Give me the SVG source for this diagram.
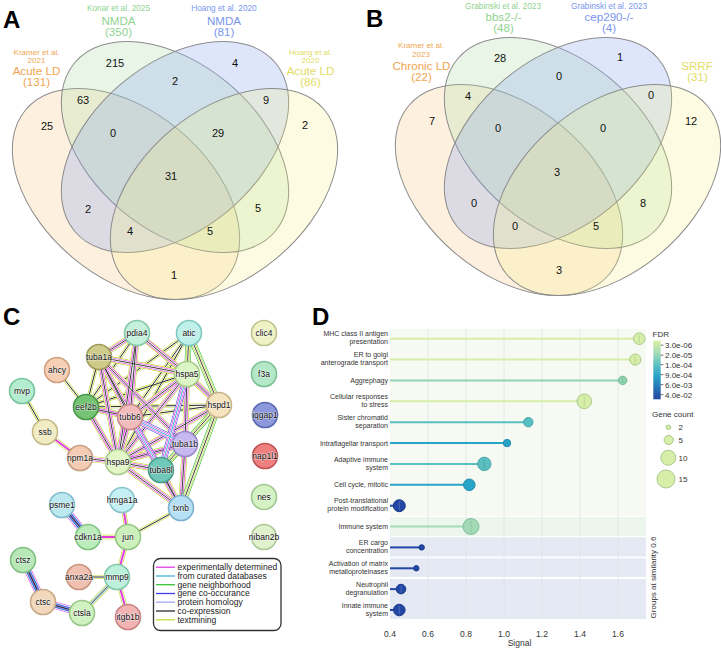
<svg xmlns="http://www.w3.org/2000/svg" width="721" height="650" viewBox="0 0 721 650">
<style>
text{font-family:"Liberation Sans",Arial,sans-serif}
.pl{font-weight:bold;font-size:24px;fill:#000}
.vn{font-size:11px;fill:#111;text-anchor:middle}
.vs{font-size:8.3px;text-anchor:middle}
.vt{font-size:8px;text-anchor:middle}
.vb{font-size:11.6px;text-anchor:middle}
.ell{stroke:#8c8c8c;stroke-width:1}
.or{fill:#f8c27f;fill-opacity:.25}.gr{fill:#a8dca0;fill-opacity:.25}.bl{fill:#8aa6f0;fill-opacity:.28}.ye{fill:#f4f07a;fill-opacity:.22}
.tor{fill:#f0a550}.tgr{fill:#8fd38f}.tbl{fill:#7a96ee}.tye{fill:#e2dc66}
.nd circle{stroke-width:1.6}
.nd text{font-size:8.5px;text-anchor:middle;fill:#111;stroke:#fff;stroke-width:1.2;stroke-opacity:.6;paint-order:stroke}
.lg{font-size:8.5px;fill:#222}
.rl{font-size:7px;fill:#333;text-anchor:end}
.tk{font-size:8.5px;fill:#333;text-anchor:middle}
.lgd{font-size:8px;fill:#333}
.e{fill:none;stroke-linecap:butt}
.grid{stroke:#dfe5e5;stroke-width:.8}
</style>
<defs>
<linearGradient id="fdr" x1="0" y1="0" x2="0" y2="1">
<stop offset="0" stop-color="#d9f0a3"/><stop offset=".2" stop-color="#a9ddb7"/><stop offset=".4" stop-color="#5fc3c1"/><stop offset=".6" stop-color="#2aa3c9"/><stop offset=".8" stop-color="#2474b6"/><stop offset="1" stop-color="#2448a0"/>
</linearGradient>
<path id="eFull" d="M137,333L187,374 M137,333L130,417 M137,333L118,462 M137,333L99,357 M99,357L187,374 M99,357L118,462 M99,357L185,444 M99,357L161,470 M187,374L219,405 M187,374L130,417 M187,374L118,462 M187,374L185,444 M130,417L118,462 M130,417L181,508 M118,462L161,470 M118,462L185,444 M118,462L181,508 M118,462L219,405 M185,444L161,470 M185,444L181,508 M161,470L181,508 M86,407L118,462 M80,458L118,462 M86,407L130,417 M99,357L130,417"/>
<path id="eBlue" d="M130,417L161,470 M187,374L161,470 M130,417L185,444"/>
<path id="eCt" d="M137,333L86,407 M189,333L86,407 M189,333L130,417 M189,333L118,462 M86,407L219,405 M86,407L187,374 M99,357L86,407 M130,417L219,405 M137,333L219,405 M57,370L86,407 M22,391L45,432 M181,508L128,537 M79,577L117,577"/>
<path id="eGreen" d="M189,333L187,374 M189,333L219,405 M219,405L181,508 M219,405L161,470"/>
<path id="eMt" d="M45,432L80,458 M122,500L128,537 M88,537L128,537 M128,537L117,577 M117,577L128,617"/>
<path id="eDb" d="M62,505L88,537 M23,560L43,602 M43,602L82,613"/>
<path id="eMct" d="M117,577L82,613"/>
</defs>
<rect width="721" height="650" fill="#fff"/>

<!-- Panel A -->
<text class="pl" x="3" y="27.5">A</text>
<g id="vennA">
<g id="A-kramer"><ellipse class="ell or" cx="0" cy="0" rx="131" ry="83" transform="translate(126,194) rotate(40)"/></g>
<g id="A-konar"><ellipse class="ell gr" cx="0" cy="0" rx="131" ry="83" transform="translate(175,147) rotate(40)"/></g>
<g id="A-hoangN"><ellipse class="ell bl" cx="0" cy="0" rx="131" ry="83" transform="translate(175,147) rotate(-40)"/></g>
<g id="A-hoangA"><ellipse class="ell ye" cx="0" cy="0" rx="131" ry="83" transform="translate(224,194) rotate(-40)"/></g>
</g>
<g id="A-labels">
<text class="vt tor" x="36.5" y="54.5">Kramer et al.</text>
<text class="vt tor" x="36.5" y="63">2021</text>
<text class="vb tor" x="36.5" y="74.6">Acute LD</text>
<text class="vb tor" x="36.5" y="86.2">(131)</text>
<text class="vs tgr" x="118.5" y="11">Konar et al. 2025</text>
<text class="vb tgr" x="118.5" y="24.5">NMDA</text>
<text class="vb tgr" x="118.5" y="36.3">(350)</text>
<text class="vs tbl" x="224" y="11">Hoang et al. 2020</text>
<text class="vb tbl" x="224" y="24.5">NMDA</text>
<text class="vb tbl" x="224" y="36.3">(81)</text>
<text class="vt tye" x="310.5" y="54.5">Hoang et al.</text>
<text class="vt tye" x="310.5" y="63">2020</text>
<text class="vb tye" x="310.5" y="74.6">Acute LD</text>
<text class="vb tye" x="310.5" y="86.2">(86)</text>
</g>
<g id="A-counts">
<text class="vn" x="115" y="67">215</text>
<text class="vn" x="235" y="67">4</text>
<text class="vn" x="175" y="85">2</text>
<text class="vn" x="83" y="104">63</text>
<text class="vn" x="266" y="104">9</text>
<text class="vn" x="47" y="130">25</text>
<text class="vn" x="113" y="137">0</text>
<text class="vn" x="218" y="137">29</text>
<text class="vn" x="305" y="129">2</text>
<text class="vn" x="171" y="180">31</text>
<text class="vn" x="88" y="213">2</text>
<text class="vn" x="258" y="212">5</text>
<text class="vn" x="130" y="235">4</text>
<text class="vn" x="210" y="235">5</text>
<text class="vn" x="174" y="279">1</text>
</g>

<!-- Panel B -->
<text class="pl" x="366" y="26.7">B</text>
<g id="vennB">
<g id="B-kramer"><ellipse class="ell or" cx="0" cy="0" rx="131" ry="83" transform="translate(509,190) rotate(40)"/></g>
<g id="B-bbs2"><ellipse class="ell gr" cx="0" cy="0" rx="131" ry="83" transform="translate(558,143) rotate(40)"/></g>
<g id="B-cep290"><ellipse class="ell bl" cx="0" cy="0" rx="131" ry="83" transform="translate(558,143) rotate(-40)"/></g>
<g id="B-srrf"><ellipse class="ell ye" cx="0" cy="0" rx="131" ry="83" transform="translate(607,190) rotate(-40)"/></g>
</g>
<g id="B-labels">
<text class="vt tor" x="421" y="48.3">Kramer et al.</text>
<text class="vt tor" x="421" y="56.8">2023</text>
<text class="vb tor" x="421.5" y="69.8">Chronic LD</text>
<text class="vb tor" x="421.5" y="81.4">(22)</text>
<text class="vs tgr" x="503" y="8.5">Grabinski et al. 2023</text>
<text class="vb tgr" x="503.5" y="20.5">bbs2-/-</text>
<text class="vb tgr" x="503.5" y="32.2">(48)</text>
<text class="vs tbl" x="609" y="8.5">Grabinski et al. 2023</text>
<text class="vb tbl" x="609" y="20.5">cep290-/-</text>
<text class="vb tbl" x="609" y="32.2">(4)</text>
<text class="vb tye" x="697" y="69.8">SRRF</text>
<text class="vb tye" x="697.5" y="81.4">(31)</text>
</g>
<g id="B-counts">
<text class="vn" x="500" y="62">28</text>
<text class="vn" x="620" y="61">1</text>
<text class="vn" x="559" y="80">0</text>
<text class="vn" x="468" y="100">4</text>
<text class="vn" x="651" y="99">0</text>
<text class="vn" x="432" y="125">7</text>
<text class="vn" x="498" y="132">0</text>
<text class="vn" x="603" y="132">0</text>
<text class="vn" x="691" y="125">12</text>
<text class="vn" x="557" y="176">3</text>
<text class="vn" x="474" y="207">0</text>
<text class="vn" x="643" y="207">8</text>
<text class="vn" x="515" y="230">0</text>
<text class="vn" x="596" y="230">5</text>
<text class="vn" x="559" y="274">3</text>
</g>

<!-- Panel C -->
<text class="pl" x="3" y="325">C</text>
<g id="connectors">
<use href="#eCt" class="e" stroke="#c6dc3a" stroke-width="3.6"/>
<use href="#eCt" class="e" stroke="#fff" stroke-width="2.3"/>
<use href="#eCt" class="e" stroke="#2a2a2a" stroke-width="1"/>
<use href="#eFull" class="e" stroke="#c6dc3a" stroke-width="6"/>
<use href="#eFull" class="e" stroke="#fff" stroke-width="4.8"/>
<use href="#eFull" class="e" stroke="#e03ce0" stroke-width="3.6"/>
<use href="#eFull" class="e" stroke="#fff" stroke-width="2.3"/>
<use href="#eFull" class="e" stroke="#2a2a2a" stroke-width=".9"/>
<use href="#eBlue" class="e" stroke="#4848ec" stroke-width="6"/>
<use href="#eBlue" class="e" stroke="#fff" stroke-width="4.8"/>
<use href="#eBlue" class="e" stroke="#e03ce0" stroke-width="3.6"/>
<use href="#eBlue" class="e" stroke="#fff" stroke-width="2.3"/>
<use href="#eBlue" class="e" stroke="#40b4d8" stroke-width="1"/>
<use href="#eGreen" class="e" stroke="#38c038" stroke-width="6"/>
<use href="#eGreen" class="e" stroke="#fff" stroke-width="4.8"/>
<use href="#eGreen" class="e" stroke="#c6dc3a" stroke-width="3.6"/>
<use href="#eGreen" class="e" stroke="#fff" stroke-width="2.3"/>
<use href="#eGreen" class="e" stroke="#2a2a2a" stroke-width=".9"/>
<use href="#eMt" class="e" stroke="#c6dc3a" stroke-width="4.6"/>
<use href="#eMt" class="e" stroke="#fff" stroke-width="3.2"/>
<use href="#eMt" class="e" stroke="#e03ce0" stroke-width="2"/>
<use href="#eDb" class="e" stroke="#e03ce0" stroke-width="7.2"/>
<use href="#eDb" class="e" stroke="#fff" stroke-width="6"/>
<use href="#eDb" class="e" stroke="#40b4d8" stroke-width="4.8"/>
<use href="#eDb" class="e" stroke="#3e3ee8" stroke-width="3.6"/>
<use href="#eDb" class="e" stroke="#a6a6f4" stroke-width="2.6"/>
<use href="#eDb" class="e" stroke="#2a2a2a" stroke-width="1.1"/>
<use href="#eMct" class="e" stroke="#c6dc3a" stroke-width="5"/>
<use href="#eMct" class="e" stroke="#fff" stroke-width="3.8"/>
<use href="#eMct" class="e" stroke="#40b4d8" stroke-width="2.8"/>
<use href="#eMct" class="e" stroke="#fff" stroke-width="2"/>
<use href="#eMct" class="e" stroke="#2a2a2a" stroke-width="1"/>
</g>
<g id="n-pdia4" class="nd"><circle cx="137" cy="333" r="12.5" fill="#c4f0dc" stroke="#86c9a8"/><text x="137" y="336">pdia4</text></g>
<g id="n-atic" class="nd"><circle cx="189" cy="333" r="12.5" fill="#bff0ea" stroke="#80c8c0"/><text x="189" y="336">atic</text></g>
<g id="n-tuba1a" class="nd"><circle cx="99" cy="357" r="12.5" fill="#cfcb8a" stroke="#a09a5a"/><text x="99" y="360">tuba1a</text></g>
<g id="n-ahcy" class="nd"><circle cx="57" cy="370" r="12.5" fill="#f6cfb4" stroke="#d0a080"/><text x="57" y="373">ahcy</text></g>
<g id="n-hspa5" class="nd"><circle cx="187" cy="374" r="12.5" fill="#dcf5c4" stroke="#a8cc8c"/><text x="187" y="377">hspa5</text></g>
<g id="n-mvp" class="nd"><circle cx="22" cy="391" r="12.5" fill="#b4ecd0" stroke="#78c49c"/><text x="22" y="394">mvp</text></g>
<g id="n-eef2b" class="nd"><circle cx="86" cy="407" r="12.5" fill="#74c474" stroke="#4a9a4a"/><text x="86" y="410">eef2b</text></g>
<g id="n-tubb6" class="nd"><circle cx="130" cy="417" r="12.5" fill="#f2bcbc" stroke="#c88a8a"/><text x="130" y="420">tubb6</text></g>
<g id="n-hspd1" class="nd"><circle cx="219" cy="405" r="12.5" fill="#f6e4c0" stroke="#c8b488"/><text x="219" y="408">hspd1</text></g>
<g id="n-ssb" class="nd"><circle cx="45" cy="432" r="12.5" fill="#f2ecc4" stroke="#c4bc88"/><text x="45" y="435">ssb</text></g>
<g id="n-tuba1b" class="nd"><circle cx="185" cy="444" r="12.5" fill="#c8b8f0" stroke="#9a88cc"/><text x="185" y="447">tuba1b</text></g>
<g id="n-npm1a" class="nd"><circle cx="80" cy="458" r="12.5" fill="#f4ccb4" stroke="#c89c80"/><text x="80" y="461">npm1a</text></g>
<g id="n-hspa9" class="nd"><circle cx="118" cy="462" r="12.5" fill="#e2f6c8" stroke="#aacc90"/><text x="118" y="465">hspa9</text></g>
<g id="n-tuba8l" class="nd"><circle cx="161" cy="470" r="12.5" fill="#70c8b8" stroke="#489c8c"/><text x="161" y="473">tuba8l</text></g>
<g id="n-txnb" class="nd"><circle cx="181" cy="508" r="12.5" fill="#b8e0f4" stroke="#7cb0cc"/><text x="181" y="511">txnb</text></g>
<g id="n-hmga1a" class="nd"><circle cx="122" cy="500" r="12.5" fill="#c4f0f4" stroke="#88c4cc"/><text x="122" y="503">hmga1a</text></g>
<g id="n-psme1" class="nd"><circle cx="62" cy="505" r="12.5" fill="#bce8f0" stroke="#80bccc"/><text x="62" y="508">psme1</text></g>
<g id="n-cdkn1a" class="nd"><circle cx="88" cy="537" r="12.5" fill="#bcecbc" stroke="#84c484"/><text x="88" y="540">cdkn1a</text></g>
<g id="n-jun" class="nd"><circle cx="128" cy="537" r="12.5" fill="#ccf0bc" stroke="#94c884"/><text x="128" y="540">jun</text></g>
<g id="n-ctsz" class="nd"><circle cx="23" cy="560" r="12.5" fill="#b8e8b8" stroke="#80c080"/><text x="23" y="563">ctsz</text></g>
<g id="n-anxa2a" class="nd"><circle cx="79" cy="577" r="12.5" fill="#f0c0b0" stroke="#c8947e"/><text x="79" y="580">anxa2a</text></g>
<g id="n-mmp9" class="nd"><circle cx="117" cy="577" r="12.5" fill="#bcf0dc" stroke="#84c8a8"/><text x="117" y="580">mmp9</text></g>
<g id="n-ctsc" class="nd"><circle cx="43" cy="602" r="12.5" fill="#f2d8bc" stroke="#c8aa88"/><text x="43" y="605">ctsc</text></g>
<g id="n-ctsla" class="nd"><circle cx="82" cy="613" r="12.5" fill="#d0f2c0" stroke="#98c888"/><text x="82" y="616">ctsla</text></g>
<g id="n-itgb1b" class="nd"><circle cx="128" cy="617" r="12.5" fill="#f2b4b4" stroke="#c88484"/><text x="128" y="620">itgb1b</text></g>
<g id="n-clic4" class="nd"><circle cx="264" cy="333" r="12.5" fill="#eef2c4" stroke="#c0c48c"/><text x="264" y="336">clic4</text></g>
<g id="n-f3a" class="nd"><circle cx="264" cy="374" r="12.5" fill="#b4e8c8" stroke="#7cc098"/><text x="264" y="377">f3a</text></g>
<g id="n-iqgap1" class="nd"><circle cx="265" cy="415" r="12.5" fill="#8c98dc" stroke="#5c68b0"/><text x="265" y="418">iqgap1</text></g>
<g id="n-nap1l1" class="nd"><circle cx="265" cy="456" r="12.5" fill="#ee8080" stroke="#c05454"/><text x="265" y="459">nap1l1</text></g>
<g id="n-nes" class="nd"><circle cx="264" cy="497" r="12.5" fill="#d4f2c4" stroke="#a0c890"/><text x="264" y="500">nes</text></g>
<g id="n-niban2b" class="nd"><circle cx="264" cy="537" r="12.5" fill="#e0f2cc" stroke="#b0c898"/><text x="264" y="540">niban2b</text></g>
<g id="C-legend">
<rect x="153.5" y="558.5" width="127.5" height="72" rx="7" fill="#fff" stroke="#333" stroke-width="1.3"/>
<line x1="156" y1="567.2" x2="175" y2="567.2" stroke="#e03ce0" stroke-width="1.3"/>
<line x1="156" y1="576" x2="175" y2="576" stroke="#40b4d8" stroke-width="1.3"/>
<line x1="156" y1="584.7" x2="175" y2="584.7" stroke="#38c038" stroke-width="1.3"/>
<line x1="156" y1="593.5" x2="175" y2="593.5" stroke="#3e3ee8" stroke-width="1.3"/>
<line x1="156" y1="602.2" x2="175" y2="602.2" stroke="#a6a6f4" stroke-width="1.3"/>
<line x1="156" y1="611" x2="175" y2="611" stroke="#2a2a2a" stroke-width="1.3"/>
<line x1="156" y1="619.8" x2="175" y2="619.8" stroke="#c6dc3a" stroke-width="1.3"/>
<text class="lg" x="177.5" y="570">experimentally determined</text>
<text class="lg" x="177.5" y="578.8">from curated databases</text>
<text class="lg" x="177.5" y="587.5">gene neighborhood</text>
<text class="lg" x="177.5" y="596.3">gene co-occurance</text>
<text class="lg" x="177.5" y="605">protein homology</text>
<text class="lg" x="177.5" y="613.8">co-expression</text>
<text class="lg" x="177.5" y="622.6">textmining</text>
</g>

<!-- Panel D -->
<text class="pl" x="312" y="325">D</text>
<g id="D-bg">
<rect x="390" y="329" width="256" height="187" fill="#f7faf2"/>
<rect x="390" y="517" width="256" height="19" fill="#ecf6ec"/>
<rect x="390" y="537.3" width="256" height="19.3" fill="#e4e9f4"/>
<rect x="390" y="558.3" width="256" height="18.7" fill="#e4e9f4"/>
<rect x="390" y="579" width="256" height="40" fill="#e4e9f4"/>
<line class="grid" x1="428" y1="329" x2="428" y2="619"/>
<line class="grid" x1="466" y1="329" x2="466" y2="619"/>
<line class="grid" x1="504" y1="329" x2="504" y2="619"/>
<line class="grid" x1="542" y1="329" x2="542" y2="619"/>
<line class="grid" x1="580" y1="329" x2="580" y2="619"/>
<line class="grid" x1="618" y1="329" x2="618" y2="619"/>
</g>
<g id="D-rows">
<g id="r1"><line x1="390" y1="338.7" x2="639.3" y2="338.7" stroke="#d6eea8" stroke-width="2"/><circle cx="639.3" cy="338.7" r="5.8" fill="#d6eea8" stroke="#a9c98b"/><line x1="639.3" y1="334.7" x2="639.3" y2="342.7" stroke="#a9c98b" stroke-width=".6"/></g>
<g id="r2"><line x1="390" y1="359.6" x2="635.3" y2="359.6" stroke="#d6eea8" stroke-width="2"/><circle cx="635.3" cy="359.6" r="5.6" fill="#d6eea8" stroke="#a9c98b"/><line x1="635.3" y1="355.7" x2="635.3" y2="363.5" stroke="#a9c98b" stroke-width=".6"/></g>
<g id="r3"><line x1="390" y1="380.4" x2="622.7" y2="380.4" stroke="#92d3b0" stroke-width="2"/><circle cx="622.7" cy="380.4" r="4.2" fill="#92d3b0" stroke="#72b894"/><line x1="622.7" y1="377.5" x2="622.7" y2="383.3" stroke="#72b894" stroke-width=".6"/></g>
<g id="r4"><line x1="390" y1="401.3" x2="584.3" y2="401.3" stroke="#d6eea8" stroke-width="2"/><circle cx="584.3" cy="401.3" r="7.3" fill="#d6eea8" stroke="#a9c98b"/><line x1="584.3" y1="396.2" x2="584.3" y2="406.4" stroke="#a9c98b" stroke-width=".6"/></g>
<g id="r5"><line x1="390" y1="422.2" x2="528.3" y2="422.2" stroke="#58c0c2" stroke-width="2"/><circle cx="528.3" cy="422.2" r="4.7" fill="#58c0c2" stroke="#44a6aa"/></g>
<g id="r6"><line x1="390" y1="443.1" x2="507" y2="443.1" stroke="#28a4c9" stroke-width="2"/><circle cx="507" cy="443.1" r="3.7" fill="#28a4c9" stroke="#1f8db0"/></g>
<g id="r7"><line x1="390" y1="463.9" x2="484.3" y2="463.9" stroke="#5bbfc0" stroke-width="2"/><circle cx="484.3" cy="463.9" r="6.7" fill="#5bbfc0" stroke="#46a6a8"/><line x1="484.3" y1="459.2" x2="484.3" y2="468.6" stroke="#3f999b" stroke-width=".6"/></g>
<g id="r8"><line x1="390" y1="484.8" x2="469.3" y2="484.8" stroke="#28a4c9" stroke-width="2"/><circle cx="469.3" cy="484.8" r="5.8" fill="#28a4c9" stroke="#1f8db0"/></g>
<g id="r9"><line x1="390" y1="505.7" x2="399.3" y2="505.7" stroke="#2347a5" stroke-width="2"/><circle cx="399.3" cy="505.7" r="6" fill="#2347a5" stroke="#1c3a8c"/><line x1="399.3" y1="501.5" x2="399.3" y2="509.9" stroke="#6a82c8" stroke-width=".6"/></g>
<g id="r10"><line x1="390" y1="526.5" x2="471" y2="526.5" stroke="#a2dab6" stroke-width="2"/><circle cx="471" cy="526.5" r="8" fill="#a2dab6" stroke="#7fbf9a"/><line x1="471" y1="520.9" x2="471" y2="532.1" stroke="#7fbf9a" stroke-width=".6"/></g>
<g id="r11"><line x1="390" y1="547.4" x2="421.7" y2="547.4" stroke="#2347a5" stroke-width="2"/><circle cx="421.7" cy="547.4" r="2.7" fill="#2347a5" stroke="#1c3a8c"/></g>
<g id="r12"><line x1="390" y1="568.3" x2="416.3" y2="568.3" stroke="#2347a5" stroke-width="2"/><circle cx="416.3" cy="568.3" r="2.7" fill="#2347a5" stroke="#1c3a8c"/></g>
<g id="r13"><line x1="390" y1="589.1" x2="401" y2="589.1" stroke="#2347a5" stroke-width="2"/><circle cx="401" cy="589.1" r="4.8" fill="#2347a5" stroke="#1c3a8c"/><line x1="401" y1="585.8" x2="401" y2="592.4" stroke="#6a82c8" stroke-width=".6"/></g>
<g id="r14"><line x1="390" y1="610" x2="399.3" y2="610" stroke="#2347a5" stroke-width="2"/><circle cx="399.3" cy="610" r="5.8" fill="#2347a5" stroke="#1c3a8c"/><line x1="399.3" y1="606" x2="399.3" y2="614" stroke="#6a82c8" stroke-width=".6"/></g>
</g>
<g id="D-labels">
<text class="rl" x="388" y="336.4">MHC class II antigen</text><text class="rl" x="388" y="344.4">presentation</text>
<text class="rl" x="388" y="357.3">ER to golgi</text><text class="rl" x="388" y="365.3">anterograde transport</text>
<text class="rl" x="388" y="382.9">Aggrephagy</text>
<text class="rl" x="388" y="399">Cellular responses</text><text class="rl" x="388" y="407">to stress</text>
<text class="rl" x="388" y="419.9">Sister chromatid</text><text class="rl" x="388" y="427.9">separation</text>
<text class="rl" x="388" y="445.6">Intraflagellar transport</text>
<text class="rl" x="388" y="461.6">Adaptive immune</text><text class="rl" x="388" y="469.6">system</text>
<text class="rl" x="388" y="487.3">Cell cycle, mitotic</text>
<text class="rl" x="388" y="503.4">Post-translational</text><text class="rl" x="388" y="511.4">protein modification</text>
<text class="rl" x="388" y="529">Immune system</text>
<text class="rl" x="388" y="545.1">ER cargo</text><text class="rl" x="388" y="553.1">concentration</text>
<text class="rl" x="388" y="566">Activation of matrix</text><text class="rl" x="388" y="574">metalloproteinases</text>
<text class="rl" x="388" y="586.8">Neutrophil</text><text class="rl" x="388" y="594.8">degranulation</text>
<text class="rl" x="388" y="607.7">Innate immune</text><text class="rl" x="388" y="615.7">system</text>
</g>
<g id="D-axis">
<text class="tk" x="390" y="637">0.4</text>
<text class="tk" x="428" y="637">0.6</text>
<text class="tk" x="466" y="637">0.8</text>
<text class="tk" x="504" y="637">1.0</text>
<text class="tk" x="542" y="637">1.2</text>
<text class="tk" x="580" y="637">1.4</text>
<text class="tk" x="618" y="637">1.6</text>
<text class="tk" x="519.5" y="646" font-size="8px">Signal</text>
<text class="lgd" transform="translate(655.5,577.5) rotate(-90)" text-anchor="middle">Groups at similarity 0.6</text>
</g>
<g id="D-legend">
<text class="lgd" x="652.5" y="336.7">FDR</text>
<rect x="653.3" y="340.7" width="7.4" height="58.6" fill="url(#fdr)"/>
<g stroke="#333" stroke-width=".7">
<line x1="660.7" y1="345.2" x2="663.4" y2="345.2"/><line x1="660.7" y1="355.2" x2="663.4" y2="355.2"/><line x1="660.7" y1="364.6" x2="663.4" y2="364.6"/><line x1="660.7" y1="374.6" x2="663.4" y2="374.6"/><line x1="660.7" y1="384.6" x2="663.4" y2="384.6"/><line x1="660.7" y1="394.6" x2="663.4" y2="394.6"/>
</g>
<text class="lgd" x="665" y="348.3" font-size="8.3px">3.0e-06</text>
<text class="lgd" x="665" y="358.3" font-size="8.3px">2.0e-05</text>
<text class="lgd" x="665" y="367.7" font-size="8.3px">1.0e-04</text>
<text class="lgd" x="665" y="377.7" font-size="8.3px">9.0e-04</text>
<text class="lgd" x="665" y="387.7" font-size="8.3px">6.0e-03</text>
<text class="lgd" x="665" y="397.7" font-size="8.3px">4.0e-02</text>
<text class="lgd" x="652" y="417">Gene count</text>
<circle cx="668.5" cy="427.3" r="2.3" fill="#d6eea8" stroke="#a9c98b"/>
<circle cx="668.7" cy="440" r="4.6" fill="#d6eea8" stroke="#a9c98b"/>
<circle cx="668.3" cy="457.7" r="7.5" fill="#d6eea8" stroke="#a9c98b"/>
<circle cx="666" cy="479" r="9" fill="#d6eea8" stroke="#a9c98b"/>
<text class="lgd" x="678.5" y="430">2</text>
<text class="lgd" x="678.5" y="442.7">5</text>
<text class="lgd" x="678.5" y="460.7">10</text>
<text class="lgd" x="678.5" y="482.3">15</text>
</g>
</svg>
